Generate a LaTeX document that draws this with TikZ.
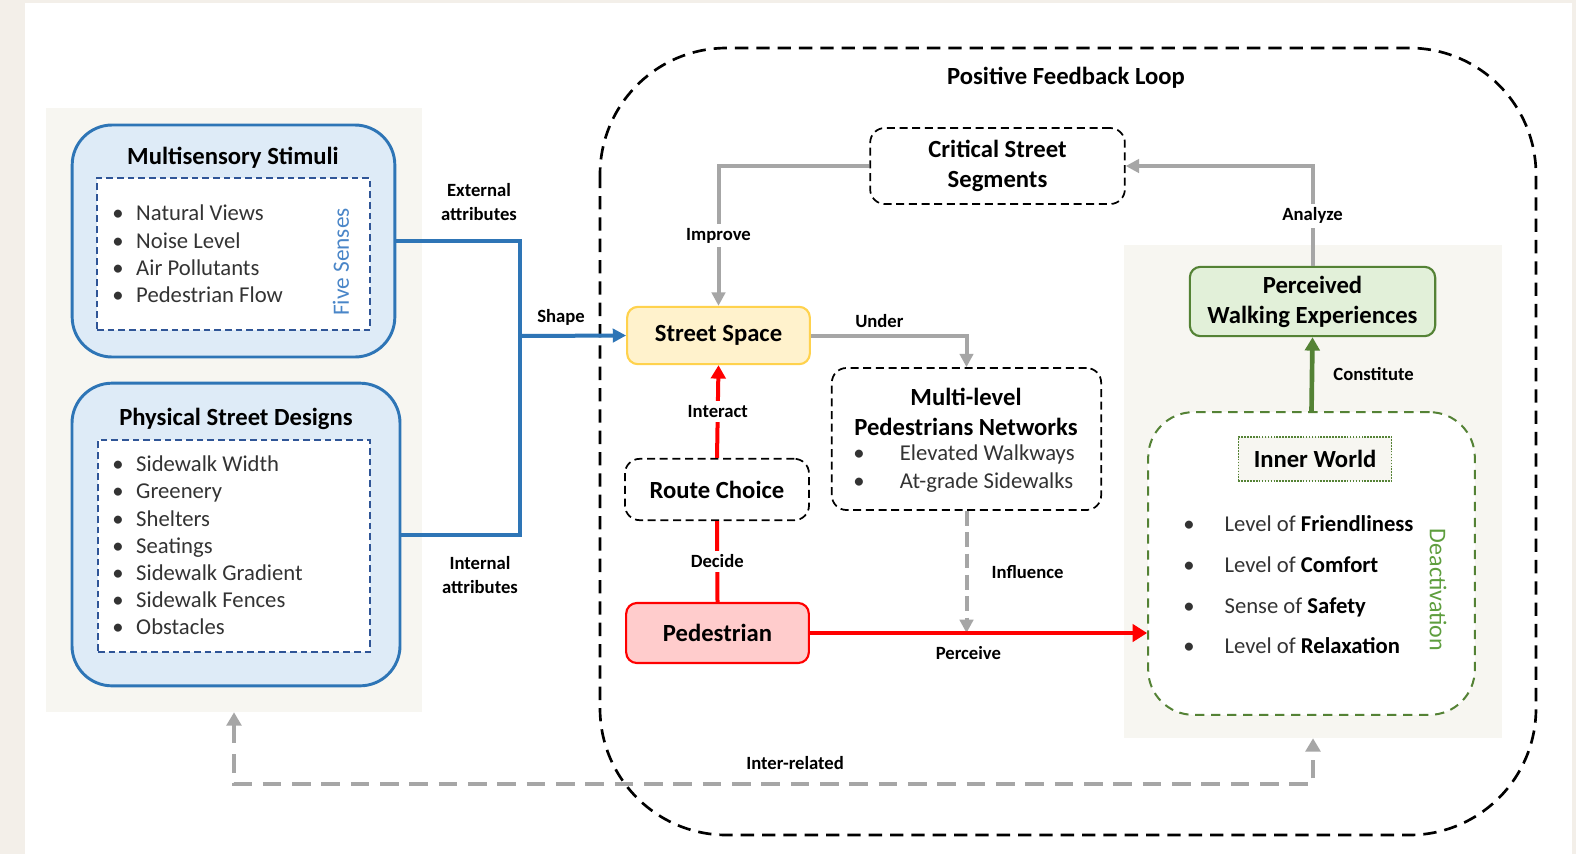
\documentclass[tikz,border=0pt]{standalone}
\usepackage{fontspec}
\setmainfont{Carlito}
\usepackage{xcolor}
\usepackage{tikz}
\usetikzlibrary{arrows.meta,positioning}

\definecolor{pagebg}{HTML}{F3EFE9}
\definecolor{panelbg}{HTML}{F7F6F1}
\definecolor{skyfill}{HTML}{DEEBF7}
\definecolor{skyline}{HTML}{2E75B6}
\definecolor{skytext}{HTML}{4A86C8}
\definecolor{navyline}{HTML}{2F5597}
\definecolor{sunfill}{HTML}{FFF2CC}
\definecolor{sunline}{HTML}{FFD24D}
\definecolor{rosefill}{HTML}{FFCCCC}
\definecolor{leaffill}{HTML}{E2F0D9}
\definecolor{leafline}{HTML}{548235}
\definecolor{leaftext}{HTML}{5E9E3E}
\definecolor{linkgray}{HTML}{A6A6A6}
\definecolor{itemgray}{HTML}{333333}

\begin{document}
\begin{tikzpicture}[x=0.75pt, y=-0.75pt,
    title/.style={font=\fontsize{18.5}{22.5}\selectfont\bfseries, align=center},
    items/.style={font=\fontsize{17}{20.4}\selectfont, align=left, anchor=west,
      inner sep=0pt, text=itemgray},
    tag/.style={font=\fontsize{14}{18}\selectfont\bfseries, align=center, text=black},
    cutout/.style={tag, fill=white, inner sep=3pt},
    panel/.style={fill=panelbg, inner sep=0pt},
    stim/.style={draw=skyline, line width=2.2pt, fill=skyfill, rounded corners=30pt},
    listbox/.style={draw=navyline, line width=1.3pt, dash pattern=on 5pt off 3pt, fill=white},
    dashbox/.style={draw, line width=1.3pt, dash pattern=on 6pt off 3.5pt,
      rounded corners=11pt, fill=white, title},
    solidbox/.style={line width=1.6pt, rounded corners=8pt, title},
    graylink/.style={draw=linkgray, line width=3pt, -{Triangle[length=10pt, width=10pt]}},
    redlink/.style={draw=red, line width=3pt},
    bluelink/.style={draw=skyline, line width=3pt},
  ]
    % page and panels
    \fill[pagebg] (0,0) rectangle (1576,854);
    \fill[white] (25,3) rectangle (1572,854);
    \node[panel, minimum width=282pt, minimum height=453pt] (leftpanel) at (234,410) {};
    \node[panel, minimum width=283.5pt, minimum height=369.75pt] (rightpanel) at (1313,491.5) {};

    % feedback loop
    \draw[line width=2pt, dash pattern=on 10pt off 6pt, rounded corners=95pt] (600,48) rectangle (1536,835);
    \node[title] (looptitle) at (1066,78) {Positive Feedback Loop};

    % stimuli side
    \node[stim, minimum width=242pt, minimum height=174pt] (multi) at (233.5,241) {};
    \node[title] (multititle) at (233,158) {Multisensory Stimuli};
    \node[listbox, minimum width=205pt, minimum height=114pt] (senses) at (233.5,254) {};
    \node[items] (senselist) at (112,254) {%
      \makebox[18pt][l]{\textbullet}Natural Views\\
      \makebox[18pt][l]{\textbullet}Noise Level\\
      \makebox[18pt][l]{\textbullet}Air Pollutants\\
      \makebox[18pt][l]{\textbullet}Pedestrian Flow};
    \node[rotate=90, text=skytext, font=\fontsize{17.5}{20}\selectfont] (fivesenses) at (341,262) {Five Senses};

    \node[stim, minimum width=246pt, minimum height=227pt] (physical) at (236,534.5) {};
    \node[title] (physicaltitle) at (236,419) {Physical Street Designs};
    \node[listbox, minimum width=204pt, minimum height=159pt] (designs) at (234,546) {};
    \node[items] (designlist) at (112,545.5) {%
      \makebox[18pt][l]{\textbullet}Sidewalk Width\\
      \makebox[18pt][l]{\textbullet}Greenery\\
      \makebox[18pt][l]{\textbullet}Shelters\\
      \makebox[18pt][l]{\textbullet}Seatings\\
      \makebox[18pt][l]{\textbullet}Sidewalk Gradient\\
      \makebox[18pt][l]{\textbullet}Sidewalk Fences\\
      \makebox[18pt][l]{\textbullet}Obstacles};

    % loop nodes
    \node[solidbox, draw=sunline, fill=sunfill, minimum width=137pt, minimum height=43pt] (street) at (718.5,335.5) {Street Space};
    \node[dashbox, minimum width=138pt, minimum height=46pt] (route) at (717,489.5) {Route Choice};
    \node[solidbox, draw=red, fill=rosefill, minimum width=137pt, minimum height=45pt] (pedestrian) at (717.5,633) {Pedestrian};
    \node[dashbox, minimum width=191pt, minimum height=57pt] (critical) at (997.5,166) {Critical Street\\Segments};
    \node[dashbox, minimum width=202pt, minimum height=106.5pt] (multinet) at (966.5,439) {};
    \node[title] (multinettitle) at (966,412) {Multi-level\\Pedestrians Networks};
    \node[items] (networklist) at (853,468.5) {%
      \makebox[35pt][l]{\textbullet}Elevated Walkways\\
      \makebox[35pt][l]{\textbullet}At-grade Sidewalks};

    % inner world side
    \node[solidbox, draw=leafline, fill=leaffill, minimum width=184pt, minimum height=52pt] (perceived) at (1312.5,301.5) {Perceived\\Walking Experiences};
    \node[draw=leafline, line width=1.5pt, dash pattern=on 7pt off 5pt, rounded corners=34pt,
      fill=white, minimum width=245pt, minimum height=227pt] (innerworld) at (1311.5,563.5) {};
    \node[title, draw=leafline, line width=1.2pt, densely dotted, fill=panelbg,
      minimum width=115pt, minimum height=33pt] (innertitle) at (1315,459) {Inner World};
    \node[items, font=\fontsize{17}{30.5}\selectfont] (feelings) at (1183,585) {%
      \makebox[31pt][l]{\textbullet}Level of \textbf{\color{black}Friendliness}\\
      \makebox[31pt][l]{\textbullet}Level of \textbf{\color{black}Comfort}\\
      \makebox[31pt][l]{\textbullet}Sense of \textbf{\color{black}Safety}\\
      \makebox[31pt][l]{\textbullet}Level of \textbf{\color{black}Relaxation}};
    \node[rotate=-90, text=leaftext, font=\fontsize{18}{20}\selectfont] (deactivation) at (1438,590) {Deactivation};

    % blue inputs
    \coordinate (merge) at (520,336);
    \draw[bluelink] (multi.east) -| (merge);
    \draw[bluelink] (physical.east) -| (merge);
    \draw[bluelink, -{Triangle[length=10pt, width=10pt]}] (merge) -- (street.west);
    \node[tag] (external) at (479,202) {External\\attributes};
    \node[tag] (internal) at (480,575) {Internal\\attributes};
    \node[tag] (shape) at (561,317) {Shape};

    % gray loop links
    \draw[graylink] (critical.west) -| node[cutout, pos=0.75] {Improve} (street.north);
    \draw[graylink] (perceived.north) |- node[cutout, pos=0.25] {Analyze} (critical.east);
    \draw[graylink] (street.east) -| node[tag, pos=0.22, above=1pt] {Under} (multinet.north);
    \draw[graylink, dash pattern=on 11pt off 5pt] (multinet.south) -- node[tag, right=14pt] {Influence} (multinet.south |- pedestrian.east);

    % red links
    \draw[redlink, -{Triangle[length=10pt, width=11pt]}] (route.north) -- node[cutout] {Interact} (street.south);
    \draw[redlink] (pedestrian.north) -- node[cutout] {Decide} (route.south);
    \draw[redlink, -{Triangle[length=11pt, width=13pt]}] (pedestrian.east) -- node[tag, below=5pt, pos=0.47] {Perceive} (pedestrian.east -| innerworld.west);

    % green link
    \draw[leafline, line width=3.5pt, -{Triangle[length=10pt, width=11pt]}] (innerworld.north) -- node[tag, right=11pt] {Constitute} (perceived.south);

    % inter-related
    \coordinate (busline) at (0,784);
    \draw[linkgray, line width=3.5pt, dash pattern=on 14pt off 8pt,
      {Triangle[length=10pt, width=11pt]}-{Triangle[length=10pt, width=11pt]}]
      (leftpanel.south) -- (leftpanel.south |- busline) -| node[tag, pos=0.26, above=6pt] {Inter-related} (rightpanel.south);
\end{tikzpicture}
\end{document}
